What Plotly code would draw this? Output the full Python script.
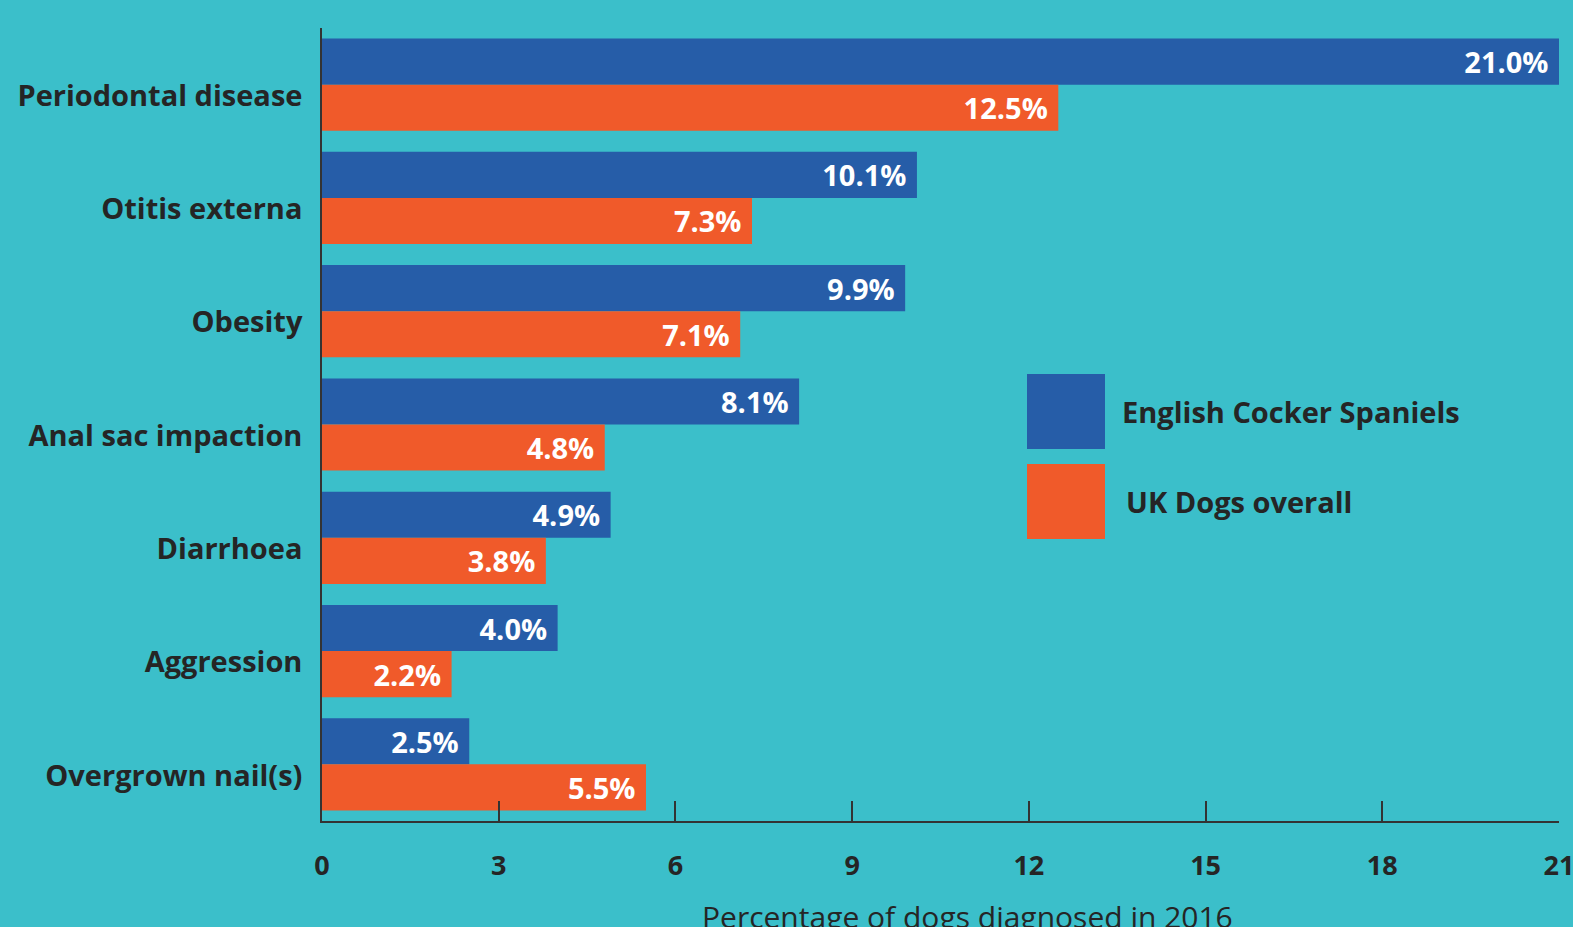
import plotly.graph_objects as go

categories = ["Periodontal disease", "Otitis externa", "Obesity", "Anal sac impaction",
              "Diarrhoea", "Aggression", "Overgrown nail(s)"]
cocker = [21.0, 10.1, 9.9, 8.1, 4.9, 4.0, 2.5]
uk_dogs = [12.5, 7.3, 7.1, 4.8, 3.8, 2.2, 5.5]
series_names = ["English Cocker Spaniels", "UK Dogs overall"]
x_ticks = [0, 3, 6, 9, 12, 15, 18, 21]

BLUE = "#265DA8"
ORANGE = "#F05A2A"
BG = "#3BBFCA"
DARK = "#252525"
FONT = "Open Sans"

fig = go.Figure()
for name, vals, col in [(series_names[0], cocker, BLUE), (series_names[1], uk_dogs, ORANGE)]:
    fig.add_trace(go.Bar(
        y=categories, x=vals, name=name, orientation="h",
        marker=dict(color=col, line=dict(width=0)),
        text=[f"{v:.1f}%\u00a0" for v in vals],
        textposition="inside", insidetextanchor="end",
        textfont=dict(family=FONT, size=29, color="white", weight="bold"),
        showlegend=False,
    ))

fig.update_layout(
    width=1573, height=927,
    paper_bgcolor=BG, plot_bgcolor=BG,
    margin=dict(l=322, r=14, t=28, b=106),
    barmode="group", bargap=0.186, bargroupgap=0,
    font=dict(family=FONT, color=DARK),
    uniformtext=dict(mode=False),
)
fig.update_xaxes(
    range=[0, 21], tickvals=x_ticks, ticktext=[str(t) for t in x_ticks],
    showgrid=False, zeroline=False, showline=True, linecolor="#333333", linewidth=1.5,
    ticks="inside", ticklen=20, tickwidth=1.5, tickcolor="#333333",
    tickfont=dict(family=FONT, size=27, color=DARK, weight="bold"),
    ticklabelstandoff=20, ticklabeloverflow="allow", automargin=False,
)
fig.update_yaxes(
    categoryorder="array", categoryarray=categories, autorange="reversed",
    showgrid=False, zeroline=False, showline=True, linecolor="#333333", linewidth=1.5,
    ticks="", tickfont=dict(family=FONT, size=29, color=DARK, weight="bold"),
    ticklabelstandoff=12, ticklabelshift=-11, automargin=False,
)

# axis title
fig.add_annotation(
    text="Percentage of dogs diagnosed in 2016", xref="paper", yref="paper",
    x=0.522, y=-0.12, xanchor="center", yanchor="middle", showarrow=False,
    font=dict(family=FONT, size=30, color=DARK),
)

# custom legend
legend_items = [(series_names[0], BLUE, 374, 449, 1120), (series_names[1], ORANGE, 464, 539, 1124)]
for name, col, y0, y1, tx in legend_items:
    fig.add_shape(type="rect", xref="paper", yref="paper",
                  x0=(1027 - 322) / 1237, x1=(1105 - 322) / 1237,
                  y0=(821 - y1) / 793, y1=(821 - y0) / 793,
                  fillcolor=col, line=dict(width=0))
    fig.add_annotation(text=name, xref="paper", yref="paper",
                       x=(tx - 322) / 1237, y=(821 - (y0 + y1) / 2) / 793,
                       xanchor="left", yanchor="middle", showarrow=False,
                       font=dict(family=FONT, size=29, color=DARK, weight="bold"))

fig.write_html("out.html", config={"displayModeBar": False},
               post_script="document.body.style.margin='0';document.body.style.background='%s';" % BG)
